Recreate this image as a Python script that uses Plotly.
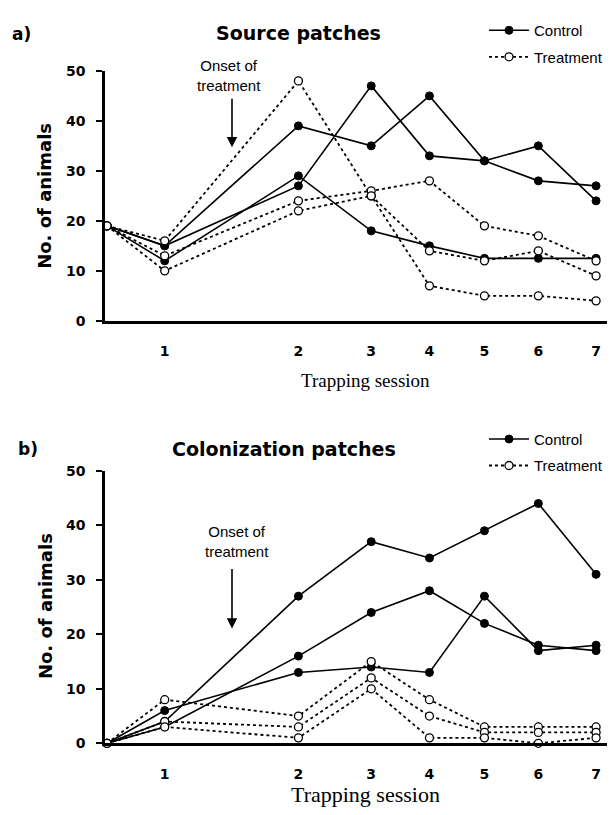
import plotly.graph_objects as go

# ---------------- data ----------------
# x position of each trapping session (time scale, session 0 = start)
session_x = [0, 1.07, 3.55, 4.9, 5.98, 7.0, 8.0, 9.07]
tick_vals = [1.07, 3.55, 4.9, 5.98, 7.0, 8.0, 9.07]
tick_text = ["1", "2", "3", "4", "5", "6", "7"]

# a) Source patches
src_control_1 = [19, 15, 39, 35, 45, 32, 35, 24]
src_control_2 = [19, 15, 27, 47, 33, 32, 28, 27]
src_control_3 = [19, 12, 29, 18, 15, 12.5, 12.5, 12.5]
src_treat_1 = [19, 16, 48, 25, 7, 5, 5, 4]
src_treat_2 = [19, 13, 24, 26, 28, 19, 17, 12]
src_treat_3 = [19, 10, 22, 25, 14, 12, 14, 9]

# b) Colonization patches
col_control_1 = [0, 4, 27, 37, 34, 39, 44, 31]
col_control_2 = [0, 3, 16, 24, 28, 22, 18, 17]
col_control_3 = [0, 6, 13, 14, 13, 27, 17, 18]
col_treat_1 = [0, 8, 5, 15, 8, 3, 3, 3]
col_treat_2 = [0, 4, 3, 12, 5, 2, 2, 2]
col_treat_3 = [0, 3, 1, 10, 1, 1, 0, 1]

y_ticks = [0, 10, 20, 30, 40, 50]

# ---------------- figure ----------------
OFF = 8                      # page body margin
W, H = 615 - OFF, 815 - OFF
fig = go.Figure()

def px_y(p):
    return 1 - (p - OFF) / H

def px_x(p):
    return (p - OFF) / W

def add_series(vals, kind, xa, ya, legend, show):
    if kind == "control":
        line = dict(color="black", width=1.6)
        marker = dict(symbol="circle", size=8, color="black",
                      line=dict(color="black", width=1))
        name = "Control"
    else:
        line = dict(color="black", width=1.8, dash="dot")
        marker = dict(symbol="circle", size=8, color="white",
                      line=dict(color="black", width=1.3))
        name = "Treatment"
    fig.add_trace(go.Scatter(
        x=session_x, y=vals, mode="lines+markers", line=line, marker=marker,
        name=name, showlegend=show, legend=legend, legendgroup=name + legend,
        xaxis=xa, yaxis=ya, cliponaxis=False))

for i, s in enumerate([src_control_1, src_control_2, src_control_3]):
    add_series(s, "control", "x", "y", "legend", i == 0)
for i, s in enumerate([src_treat_1, src_treat_2, src_treat_3]):
    add_series(s, "treat", "x", "y", "legend", i == 0)
for i, s in enumerate([col_control_1, col_control_2, col_control_3]):
    add_series(s, "control", "x2", "y2", "legend2", i == 0)
for i, s in enumerate([col_treat_1, col_treat_2, col_treat_3]):
    add_series(s, "treat", "x2", "y2", "legend2", i == 0)

axis_left = 105
unit = (486 - 431) / (7.0 - 5.98)
x_range = [-2 / unit, (615 - axis_left - 2) / unit]

tickfont = dict(family="DejaVu Sans, Liberation Sans", size=14, color="black", weight="bold")

xcommon = dict(range=x_range, tickvals=tick_vals, ticktext=tick_text,
               showline=True, linecolor="black", linewidth=2.5,
               ticks="", showgrid=False, zeroline=False,
               tickfont=tickfont, ticklabelstandoff=16,
               domain=[px_x(axis_left), 1.0])
ycommon = dict(range=[0, 50], tickvals=y_ticks, showline=True,
               linecolor="black", linewidth=2.5, ticks="outside",
               ticklen=6, tickwidth=2, tickcolor="black",
               showgrid=False, zeroline=False, tickfont=tickfont,
               ticklabelstandoff=8)

legend_font = dict(family="Liberation Sans", size=15, color="black")
fig.update_layout(
    width=W, height=H, margin=dict(l=0, r=0, t=0, b=0),
    paper_bgcolor="white", plot_bgcolor="white",
    xaxis=dict(**xcommon, anchor="y"),
    yaxis=dict(**ycommon, anchor="x", domain=[px_y(319), px_y(64)]),
    xaxis2=dict(**xcommon, anchor="y2"),
    yaxis2=dict(**ycommon, anchor="x2", domain=[px_y(750), px_y(472)]),
    legend=dict(x=px_x(484), y=px_y(6), xanchor="left", yanchor="top",
                font=legend_font, bgcolor="rgba(0,0,0,0)",
                tracegroupgap=4, itemwidth=40),
    legend2=dict(x=px_x(484), y=px_y(423), xanchor="left", yanchor="top",
                 font=legend_font, bgcolor="rgba(0,0,0,0)",
                 tracegroupgap=4, itemwidth=40),
)

title_font = dict(family="DejaVu Sans", size=19, color="black", weight="bold")
label_font = dict(family="DejaVu Sans", size=17, color="black", weight="bold")
ytitle_font = dict(family="DejaVu Sans", size=18, color="black", weight="bold")
onset_font = dict(family="Liberation Sans Narrow, Liberation Sans", size=15, color="black")

ann = []
# panel labels & titles
ann.append(dict(text="a)", x=px_x(10), y=px_y(26), xref="paper", yref="paper",
                xanchor="left", yanchor="middle", showarrow=False, font=label_font))
ann.append(dict(text="Source patches", x=px_x(298), y=px_y(25), xref="paper", yref="paper",
                xanchor="center", yanchor="middle", showarrow=False, font=title_font))
ann.append(dict(text="b)", x=px_x(16), y=px_y(450), xref="paper", yref="paper",
                xanchor="left", yanchor="middle", showarrow=False, font=label_font))
ann.append(dict(text="Colonization patches", x=px_x(284), y=px_y(450), xref="paper", yref="paper",
                xanchor="center", yanchor="middle", showarrow=False, font=title_font))
# y titles
for yc in [191.5, 610]:
    ann.append(dict(text="No. of animals", x=px_x(45), y=px_y(yc), xref="paper", yref="paper",
                    xanchor="center", yanchor="middle", textangle=-90, showarrow=False,
                    font=ytitle_font))
# x titles
ann.append(dict(text="Trapping session", x=px_x(365), y=px_y(380), xref="paper", yref="paper",
                xanchor="center", yanchor="middle", showarrow=False,
                font=dict(family="Liberation Serif", size=19, color="black")))
ann.append(dict(text="Trapping session", x=px_x(365), y=px_y(802), xref="paper", yref="paper",
                xanchor="center", yanchor="middle", showarrow=False,
                font=dict(family="Liberation Serif", size=22, color="black")))
# onset of treatment
arrow_x = (232 - axis_left) / unit + x_range[0]
text_a_x = (229 - axis_left) / unit + x_range[0]
text_b_x = (237 - axis_left) / unit + x_range[0]
pa = (319 - 64) / 50.0
pb = (750 - 472) / 50.0
ann.append(dict(text="Onset of<br>treatment", x=text_a_x, y=(319 - 68.5) / pa, xref="x", yref="y",
                xanchor="center", yanchor="middle", showarrow=False, font=onset_font))
ann.append(dict(text="", x=arrow_x, y=(319 - 142) / pa, xref="x", yref="y",
                ax=0, ay=-50, showarrow=True, arrowhead=2, arrowsize=1.3,
                arrowwidth=1.6, arrowcolor="black"))
ann.append(dict(text="Onset of<br>treatment", x=text_b_x, y=(750 - 544.5) / pb, xref="x2", yref="y2",
                xanchor="center", yanchor="middle", showarrow=False, font=onset_font))
ann.append(dict(text="", x=arrow_x, y=(750 - 633) / pb, xref="x2", yref="y2",
                ax=0, ay=-61, showarrow=True, arrowhead=2, arrowsize=1.3,
                arrowwidth=1.6, arrowcolor="black"))
fig.update_layout(annotations=ann)

fig.write_html("out.html")
